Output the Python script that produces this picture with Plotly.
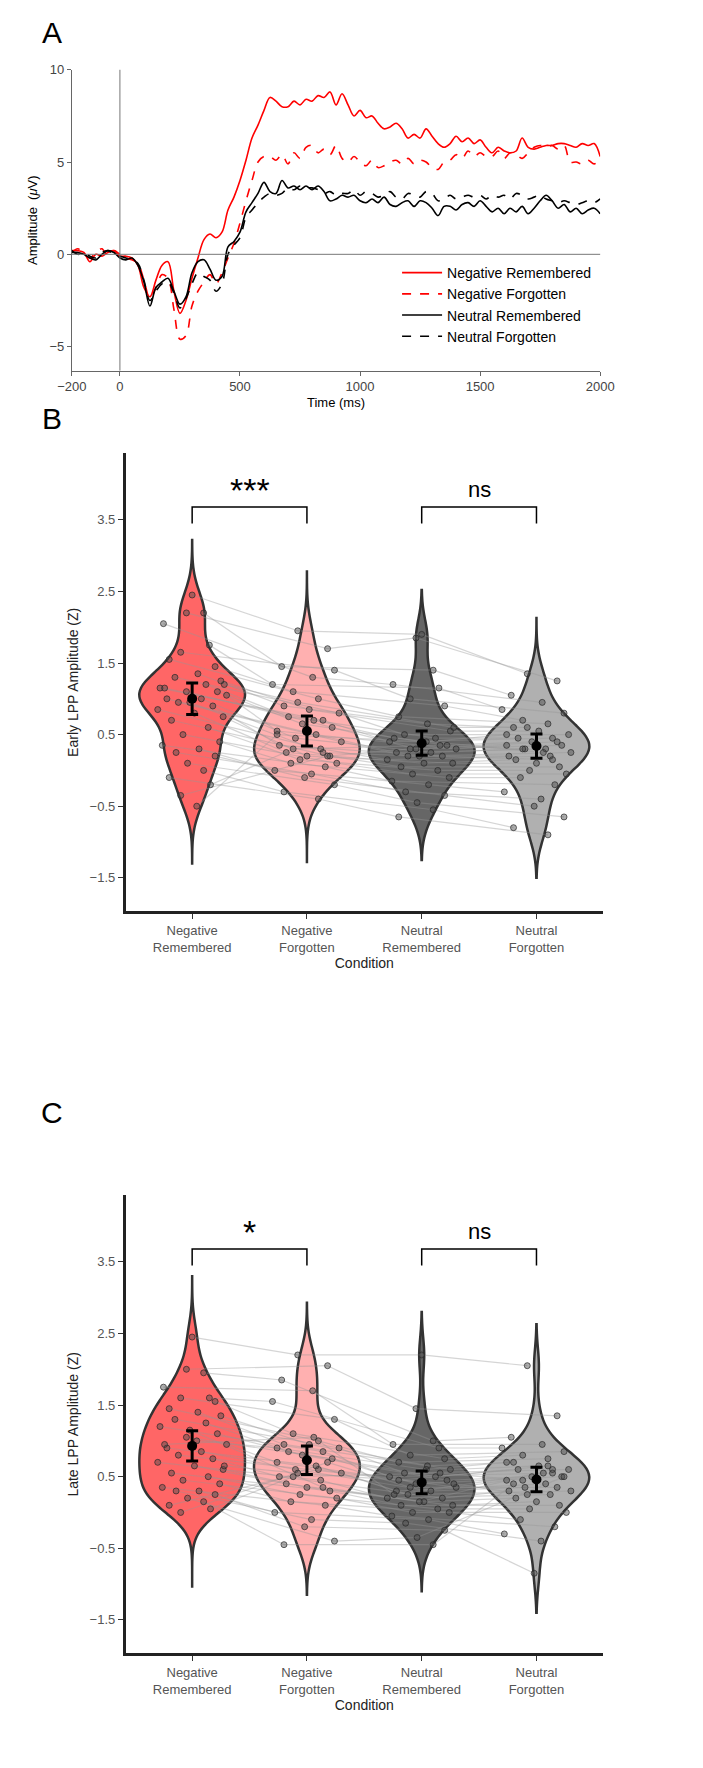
import plotly.graph_objects as go

# ---- panel A: ERP waveforms (uV), 25 ms steps from -200 to 2000 ----
times = list(range(-200, 2001, 25))
neg_rem = [0.2, 0.2, 0.1, -0.4, 0.0, -0.1, 0.1, 0.2, -0.1, -0.1, -0.2, -0.6, -1.8, -2.3, -1.4, -0.6, -0.4,
           -2.0, -3.2, -2.5, -1.3, -0.2, 0.8, 1.1, 0.9, 1.2, 2.4, 3.1, 4.0, 5.1, 6.3, 7.0, 7.8, 8.5, 8.3,
           8.0, 8.0, 8.3, 8.1, 8.4, 8.3, 8.6, 8.5, 8.8, 8.1, 8.7, 8.1, 7.5, 7.8, 7.4, 7.5, 7.1, 6.8, 6.9,
           7.1, 6.8, 6.3, 6.5, 6.3, 6.8, 6.4, 6.0, 5.8, 6.0, 6.4, 6.1, 6.3, 6.0, 6.2, 5.8, 5.5, 5.8, 5.6,
           5.5, 5.6, 6.3, 5.8, 5.7, 5.8, 5.9, 5.9, 6.0, 6.0, 5.9, 5.8, 6.0, 5.9, 6.0, 5.3]
neg_forg = [0.1, 0.3, 0.0, -0.2, 0.1, 0.3, -0.1, 0.2, 0.0, -0.2, -0.3, -0.5, -1.4, -2.4, -1.8, -1.1, -1.3,
            -3.0, -4.6, -4.4, -2.8, -2.0, -1.5, -1.1, -1.6, -1.0, -0.2, 0.6, 1.7, 2.9, 4.0, 5.0, 5.3, 5.3,
            5.1, 5.4, 4.9, 5.5, 5.2, 5.8, 5.9, 5.5, 5.7, 5.4, 5.9, 5.2, 5.0, 5.3, 5.0, 4.8, 5.1, 4.7, 4.8,
            5.0, 5.1, 4.9, 5.2, 4.9, 5.1, 5.0, 4.7, 4.6, 5.0, 5.1, 5.4, 5.2, 5.6, 5.3, 5.5, 5.3, 5.3, 5.6,
            5.2, 5.5, 5.4, 5.2, 5.5, 5.8, 5.9, 5.8, 5.9, 5.7, 5.9, 5.0, 5.0, 4.9, 5.1, 4.9, 5.2]
neu_rem = [0.1, 0.1, 0.0, -0.2, -0.3, 0.0, 0.2, 0.1, -0.2, -0.3, -0.2, -0.6, -1.5, -2.8, -1.8, -1.5, -1.3,
           -2.0, -2.7, -2.3, -1.0, -0.4, -0.3, -0.8, -1.4, -1.2, 0.4, 0.7, 1.2, 2.3, 2.8, 3.3, 3.9, 3.4,
           3.3, 4.0, 3.6, 3.7, 3.5, 3.7, 3.5, 3.7, 3.4, 2.9, 3.0, 3.2, 3.1, 3.2, 2.9, 2.8, 3.0, 2.8, 3.1,
           2.7, 2.6, 2.8, 2.9, 2.6, 2.9, 2.8, 2.5, 2.1, 2.6, 2.6, 2.4, 2.7, 2.8, 2.6, 2.9, 2.6, 2.3, 2.5,
           2.2, 2.5, 2.3, 2.6, 2.2, 2.5, 2.9, 3.2, 2.9, 2.5, 2.7, 2.3, 2.5, 2.2, 2.4, 2.5, 2.2]
neu_forg = [0.2, 0.0, 0.1, -0.1, -0.2, 0.1, 0.2, 0.0, -0.1, -0.2, -0.3, -0.5, -1.4, -2.5, -2.0, -1.6, -1.5,
            -2.1, -2.9, -2.4, -1.6, -1.0, -1.2, -1.4, -2.0, -1.6, 0.0, 0.5, 0.9, 2.0, 2.4, 2.8, 3.1, 3.3,
            3.2, 3.3, 3.6, 3.5, 3.7, 3.6, 3.6, 3.5, 3.3, 3.4, 3.2, 3.3, 3.3, 3.5, 3.2, 3.4, 3.3, 3.1, 3.2,
            3.4, 3.1, 3.0, 3.3, 3.2, 3.1, 3.4, 3.3, 2.9, 3.0, 3.2, 3.0, 3.1, 3.2, 3.1, 3.2, 3.0, 3.2, 3.1,
            3.2, 3.0, 3.3, 3.2, 3.0, 3.1, 3.2, 3.0, 2.9, 2.8, 2.9, 2.8, 2.7, 2.8, 2.9, 2.8, 3.0]

# ---- panels B/C: per-subject LPP amplitudes (Z) ----
conditions = ["Negative<br>Remembered", "Negative<br>Forgotten", "Neutral<br>Remembered", "Neutral<br>Forgotten"]
early_nr = [2.45, 2.2, 2.2, 2.05, 1.75, 1.65, 1.45, 1.55, 1.35, 1.25, 1.3, 1.2, 1.15, 1.1, 1.1, 1.05, 1.0, 1.0,
            0.95, 0.9, 0.85, 0.8, 0.75, 0.7, 0.6, 0.5, 0.4, 0.35, 0.3, 0.25, 0.2, 0.1, 0.0, -0.1, -0.2, -0.35,
            -0.5, 1.15, 1.2, 0.95]
early_nf = [1.95, 1.7, 1.45, 1.3, 1.2, 1.4, 1.1, 1.0, 0.9, 0.85, 0.8, 0.75, 0.7, 0.65, 0.6, 0.55, 0.5, 0.45,
            0.4, 0.35, 0.3, 0.25, 0.2, 0.2, 0.15, 0.1, 0.1, 0.05, 0.0, -0.05, -0.1, -0.2, -0.3, -0.4, 0.3, 0.2,
            0.5, 0.7, 0.95, 0.25]
early_ur = [1.9, 1.85, 1.4, 1.2, 1.15, 1.0, 0.9, 0.75, 0.65, 0.55, 0.5, 0.45, 0.4, 0.35, 0.3, 0.3, 0.25, 0.25,
            0.2, 0.2, 0.15, 0.1, 0.1, 0.05, 0.0, -0.05, -0.1, -0.15, -0.2, -0.3, -0.35, -0.45, -0.55, -0.65,
            0.35, 0.3, 0.4, 0.45, 0.6, 0.2]
early_uf = [1.35, 1.25, 1.05, 0.95, 0.85, 0.8, 0.7, 0.65, 0.6, 0.55, 0.5, 0.45, 0.45, 0.4, 0.35, 0.35, 0.3, 0.3,
            0.25, 0.2, 0.2, 0.15, 0.1, 0.05, 0.0, -0.05, -0.1, -0.2, -0.3, -0.4, -0.5, -0.65, -0.8, -0.9, 0.3,
            0.4, 0.5, 0.25, 0.6, 0.15]
late_nr = [2.45, 2.0, 1.95, 1.75, 1.6, 1.6, 1.55, 1.45, 1.4, 1.35, 1.3, 1.25, 1.2, 1.1, 1.05, 0.95, 0.9, 0.85,
           0.8, 0.75, 0.7, 0.65, 0.6, 0.55, 0.5, 0.45, 0.4, 0.35, 0.3, 0.3, 0.25, 0.2, 0.15, 0.1, 0.05, 0.0,
           1.0, 0.95, 0.65, 1.15]
late_nf = [2.2, 2.05, 1.85, 1.7, 1.55, 1.3, 1.1, 1.0, 0.95, 0.95, 0.9, 0.85, 0.85, 0.8, 0.75, 0.7, 0.65, 0.6,
           0.55, 0.5, 0.45, 0.4, 0.35, 0.3, 0.25, 0.2, 0.15, 0.1, 0.0, -0.1, -0.2, -0.4, -0.45, 0.6, 0.5, 0.7,
           0.9, 1.05, 0.55, 0.35]
late_ur = [2.2, 1.45, 1.0, 0.95, 0.9, 0.8, 0.75, 0.7, 0.65, 0.6, 0.55, 0.5, 0.5, 0.45, 0.4, 0.35, 0.3, 0.3,
           0.25, 0.2, 0.2, 0.15, 0.1, 0.1, 0.05, 0.0, 0.0, -0.05, -0.1, -0.15, -0.25, -0.35, -0.45, 0.45, 0.55,
           0.35, 0.6, 0.25, 0.4, 0.15]
late_uf = [2.05, 1.35, 1.05, 0.95, 0.9, 0.85, 0.8, 0.75, 0.7, 0.65, 0.6, 0.6, 0.55, 0.5, 0.5, 0.45, 0.4, 0.35,
           0.3, 0.3, 0.25, 0.2, 0.15, 0.1, 0.05, 0.0, -0.1, -0.2, -0.3, -0.4, -0.85, 0.5, 0.4, 0.65, 0.45, 0.35,
           0.7, 0.55, 0.25, 0.6]
jitter_a = [0.0, -0.05, 0.1, -0.25, 0.15, -0.1, 0.2, -0.2, 0.05, 0.25, -0.15, 0.12, -0.28, 0.22, -0.05, 0.3,
            -0.22, 0.08, -0.12, 0.18, -0.3, 0.02, 0.27, -0.18, 0.14, -0.08, 0.24, -0.26, 0.06, -0.14, 0.2,
            -0.04, 0.1, -0.2, 0.16, -0.1, 0.04, -0.24, 0.28, -0.02]
jitter_b = [-0.08, 0.18, -0.22, 0.05, -0.3, 0.24, -0.12, 0.1, -0.2, 0.02, 0.28, -0.16, 0.14, -0.04, 0.22, -0.26,
            0.08, -0.1, 0.3, -0.24, 0.12, -0.18, 0.0, 0.2, -0.06, 0.26, -0.14, 0.16, -0.28, 0.04, -0.02, 0.24,
            -0.2, 0.1, -0.12, 0.18, -0.26, 0.06, -0.08, 0.14]
early_mean = [1.0, 0.55, 0.38, 0.34]
early_err = [0.22, 0.21, 0.17, 0.17]
late_mean = [0.93, 0.73, 0.42, 0.46]
late_err = [0.21, 0.2, 0.16, 0.17]
early_span = [[-1.3, 3.22], [-1.28, 2.78], [-1.25, 2.52], [-1.5, 2.13]]
late_span = [[-1.05, 3.3], [-1.15, 2.93], [-1.1, 2.8], [-1.4, 2.63]]

fills = ["#ff6666", "#ffb0b0", "#666666", "#b0b0b0"]
FONT = "Liberation Sans"

fig = go.Figure()

# panel A
erp = [("Negative Remembered", neg_rem, "red", "solid"), ("Negative Forgotten", neg_forg, "red", "dash"),
       ("Neutral Remembered", neu_rem, "black", "solid"), ("Neutral Forgotten", neu_forg, "black", "dash")]
for name, vals, col, dash in erp:
    fig.add_trace(go.Scatter(x=times, y=vals, mode="lines", name=name, line=dict(color=col, width=1.6, dash=dash),
                             line_shape="spline", xaxis="x", yaxis="y"))


def violin_panel(data, means, errs, spans, xa, ya):
    for i, vals in enumerate(data):
        fig.add_trace(go.Violin(x=[i] * len(vals), y=vals, xaxis=xa, yaxis=ya, width=0.92, scalemode="width",
                                spanmode="manual", span=spans[i], bandwidth=0.24, points=False,
                                fillcolor=fills[i], line=dict(color="#333333", width=2.5), opacity=1,
                                showlegend=False, hoverinfo="skip"))
    jit = [jitter_a, jitter_b, jitter_a, jitter_b]
    # paired subject lines
    for i in range(3):
        for s in range(len(data[0])):
            fig.add_trace(go.Scatter(x=[i + jit[i][s], i + 1 + jit[i + 1][s]], y=[data[i][s], data[i + 1][s]],
                                     mode="lines", line=dict(color="rgba(150,150,150,0.4)", width=1.2),
                                     xaxis=xa, yaxis=ya, showlegend=False, hoverinfo="skip"))
    for i, vals in enumerate(data):
        fig.add_trace(go.Scatter(x=[i + j for j in jit[i]], y=vals, mode="markers", xaxis=xa, yaxis=ya,
                                 marker=dict(size=6, color="rgba(70,70,70,0.45)",
                                             line=dict(color="rgba(40,40,40,0.7)", width=1)),
                                 showlegend=False, hoverinfo="skip"))
    fig.add_trace(go.Scatter(x=list(range(4)), y=means, mode="markers", xaxis=xa, yaxis=ya,
                             marker=dict(size=10, color="black"),
                             error_y=dict(type="data", array=errs, color="black", thickness=3, width=6),
                             showlegend=False, hoverinfo="skip"))


violin_panel([early_nr, early_nf, early_ur, early_uf], early_mean, early_err, early_span, "x2", "y2")
violin_panel([late_nr, late_nf, late_ur, late_uf], late_mean, late_err, late_span, "x3", "y3")

H = 1768
W = 703


def dom(top, bottom):
    return [1 - bottom / H, 1 - top / H]


tickfont = dict(family=FONT, size=13, color="#444444")
fig.update_layout(
    width=W, height=H, margin=dict(l=0, r=0, t=0, b=0), plot_bgcolor="white", paper_bgcolor="white",
    font=dict(family=FONT),
    showlegend=True,
    legend=dict(x=0.555, y=1 - 243 / H, xanchor="left", yanchor="top", bgcolor="rgba(0,0,0,0)",
                font=dict(family=FONT, size=14, color="black"), tracegroupgap=0, itemwidth=40),
    xaxis=dict(domain=[51 / W, 602 / W], range=[-200, 2000], anchor="y", tickvals=[-200, 0, 500, 1000, 1500, 2000],
               ticks="outside", ticklen=4, tickcolor="#666", showline=True, linecolor="#666", linewidth=1,
               showgrid=False, zeroline=False, tickfont=tickfont,
               title=dict(text="Time (ms)", font=dict(family=FONT, size=13, color="black"), standoff=4)),
    yaxis=dict(domain=dom(55, 357), range=[-6.3, 10], anchor="x", tickvals=[-5, 0, 5, 10],
               ticks="outside", ticklen=4, tickcolor="#666", showline=True, linecolor="#666", linewidth=1,
               showgrid=False, zeroline=False, tickfont=tickfont,
               title=dict(text="Amplitude  (<i>μ</i>V)", font=dict(family=FONT, size=13, color="black"), standoff=8)),
)
for n, (top, bot, ttl) in zip(["2", "3"], [(440, 900, "Early LPP Amplitude (Z)"), (1185, 1645, "Late LPP Amplitude (Z)")]):
    fig.update_layout(**{
        "xaxis" + n: dict(domain=[107 / W, 605 / W], range=[-0.58, 3.58], anchor="y" + n,
                          tickvals=[0, 1, 2, 3], ticktext=conditions, ticks="outside", ticklen=5, tickcolor="#333",
                          showline=True, linecolor="#222", linewidth=2.5, showgrid=False, zeroline=False,
                          tickfont=dict(family=FONT, size=13, color="#555"),
                          title=dict(text="Condition", font=dict(family=FONT, size=14, color="#222"), standoff=4)),
        "yaxis" + n: dict(domain=dom(top, bot), range=[-1.97, 4.43], anchor="x" + n,
                          tickvals=[-1.5, -0.5, 0.5, 1.5, 2.5, 3.5], ticks="outside", ticklen=5, tickcolor="#333",
                          showline=True, linecolor="#222", linewidth=2.5, showgrid=False, zeroline=False,
                          tickfont=dict(family=FONT, size=13, color="#555"),
                          title=dict(text=ttl, font=dict(family=FONT, size=14, color="#222"), standoff=8)),
    })

# zero reference lines in panel A
fig.add_hline(y=0, line=dict(color="#777", width=1), xref="x", yref="y")
fig.add_vline(x=0, line=dict(color="#777", width=1), xref="x", yref="y")

# significance brackets
for xa, ya, marks in [("x2", "y2", ["***", "ns"]), ("x3", "y3", ["*", "ns"])]:
    for (a, b), mk in zip([(0, 1), (2, 3)], marks):
        fig.add_shape(type="path", path=f"M {a},3.45 L {a},3.68 L {b},3.68 L {b},3.45", xref=xa, yref=ya,
                      line=dict(color="black", width=1.5))
        big = mk.startswith("*")
        fig.add_annotation(x=(a + b) / 2, y=3.72 if not big else 3.62, xref=xa, yref=ya, text=mk, showarrow=False,
                           yanchor="bottom", font=dict(family=FONT, size=34 if big else 22, color="black"))

for letter, y in [("A", 18), ("B", 405), ("C", 1102)]:
    fig.add_annotation(x=30 / W, y=1 - y / H, xref="paper", yref="paper", text=letter, showarrow=False,
                       xanchor="center", yanchor="middle", font=dict(family=FONT, size=30, color="black"))

fig.write_html("out.html")
